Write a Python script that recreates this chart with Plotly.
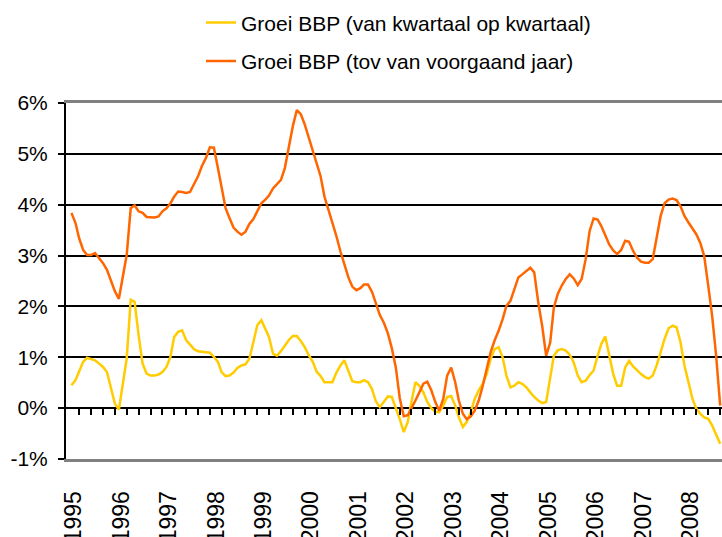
import pandas as pd
import plotly.graph_objects as go

# Monthly series, Jan 1995 - Sep 2008 (values in %)
series_names = ["Groei BBP (van kwartaal op kwartaal)", "Groei BBP (tov van voorgaand jaar)"]

qoq = [0.45, 0.55, 0.72, 0.91, 0.99, 0.97, 0.94, 0.88, 0.81, 0.71, 0.38, 0.09,
       -0.03, 0.45, 0.97, 2.13, 2.09, 1.43, 0.88, 0.68, 0.64, 0.64, 0.66, 0.71,
       0.81, 1.01, 1.40, 1.50, 1.53, 1.34, 1.24, 1.16, 1.12, 1.11, 1.09, 1.09,
       1.01, 0.91, 0.71, 0.63, 0.64, 0.70, 0.79, 0.84, 0.86, 0.97, 1.30, 1.63,
       1.73, 1.57, 1.40, 1.07, 1.03, 1.12, 1.24, 1.34, 1.42, 1.42, 1.32, 1.20,
       1.04, 0.91, 0.72, 0.63, 0.51, 0.51, 0.51, 0.70, 0.84, 0.94, 0.74, 0.53,
       0.51, 0.51, 0.55, 0.51, 0.38, 0.13, 0.02, 0.12, 0.23, 0.22, 0.02, -0.21,
       -0.47, -0.27, 0.12, 0.51, 0.44, 0.31, 0.12, 0.00, -0.07, -0.08, 0.05, 0.22,
       0.24, 0.05, -0.18, -0.37, -0.27, -0.08, 0.18, 0.35, 0.48, 0.67, 0.97, 1.16,
       1.20, 1.00, 0.64, 0.41, 0.44, 0.51, 0.48, 0.41, 0.31, 0.22, 0.15, 0.10,
       0.12, 0.58, 1.03, 1.14, 1.16, 1.13, 1.05, 0.90, 0.64, 0.51, 0.54, 0.65,
       0.74, 1.03, 1.26, 1.41, 1.07, 0.67, 0.44, 0.44, 0.80, 0.93, 0.82, 0.74,
       0.67, 0.61, 0.58, 0.64, 0.84, 1.10, 1.36, 1.57, 1.62, 1.59, 1.29, 0.84,
       0.51, 0.18, -0.01, -0.11, -0.18, -0.21, -0.34, -0.52, -0.70]

yoy = [3.84, 3.64, 3.34, 3.11, 3.01, 3.01, 3.05, 2.96, 2.85, 2.72, 2.52, 2.30,
       2.15, 2.62, 3.01, 3.93, 3.99, 3.87, 3.84, 3.76, 3.75, 3.75, 3.77, 3.87,
       3.93, 4.03, 4.16, 4.26, 4.25, 4.23, 4.25, 4.41, 4.56, 4.76, 4.92, 5.13,
       5.12, 4.72, 4.36, 3.93, 3.74, 3.55, 3.47, 3.41, 3.47, 3.62, 3.72, 3.87,
       4.03, 4.10, 4.18, 4.32, 4.41, 4.49, 4.72, 5.12, 5.55, 5.86, 5.78, 5.58,
       5.32, 5.02, 4.82, 4.56, 4.16, 3.90, 3.68, 3.38, 3.08, 2.82, 2.57, 2.39,
       2.32, 2.36, 2.43, 2.43, 2.29, 2.06, 1.83, 1.68, 1.47, 1.18, 0.80, 0.20,
       -0.16, -0.14, -0.01, 0.15, 0.31, 0.48, 0.52, 0.35, 0.12, -0.05, 0.18, 0.64,
       0.80, 0.51, 0.15, -0.11, -0.22, -0.16, -0.05, 0.15, 0.44, 0.77, 1.10, 1.33,
       1.52, 1.75, 2.01, 2.11, 2.34, 2.57, 2.63, 2.70, 2.76, 2.67, 2.08, 1.62,
       1.03, 1.29, 1.98, 2.25, 2.41, 2.54, 2.63, 2.55, 2.42, 2.54, 2.93, 3.48,
       3.73, 3.71, 3.58, 3.40, 3.22, 3.10, 3.03, 3.11, 3.29, 3.27, 3.09, 2.96,
       2.88, 2.86, 2.86, 2.93, 3.35, 3.78, 4.03, 4.10, 4.12, 4.09, 3.97, 3.78,
       3.65, 3.52, 3.42, 3.25, 2.99, 2.41, 1.82, 1.03, 0.05]

year_labels = [str(y) for y in range(1995, 2009)]
y_tick_values = [-1, 0, 1, 2, 3, 4, 5, 6]
y_tick_labels = ["-1%", "0%", "1%", "2%", "3%", "4%", "5%", "6%"]

dates = pd.date_range("1995-01-01", periods=len(yoy), freq="MS")
quarter_ticks = pd.date_range("1995-03-01", "2008-09-01", freq="3MS")
year_tick_pos = [f"{y}-01-18" for y in year_labels]

FONT = "Liberation Sans, Arial, sans-serif"

fig = go.Figure()
fig.add_trace(go.Scatter(x=dates, y=qoq, mode="lines", name=series_names[0],
                         line=dict(color="#FFCC00", width=2.5), legend="legend"))
fig.add_trace(go.Scatter(x=dates, y=yoy, mode="lines", name=series_names[1],
                         line=dict(color="#FF6600", width=2.5), legend="legend2"))
# helper (invisible) trace so the zero-line tick axis is drawn
fig.add_trace(go.Scatter(x=dates[:1], y=[0], mode="markers", xaxis="x2",
                         marker=dict(opacity=0), showlegend=False, hoverinfo="skip"))

x_range = ["1994-11-20", "2008-09-15"]

fig.update_layout(
    width=722, height=537,
    margin=dict(l=66, r=0, t=103, b=78, autoexpand=False),
    paper_bgcolor="white", plot_bgcolor="white",
    font=dict(family=FONT, color="black", size=21),
    xaxis=dict(type="date", range=x_range, tickmode="array", automargin=False,
               tickvals=year_tick_pos, ticktext=year_labels, tickangle=-90,
               ticks="", showgrid=False, zeroline=False,
               showline=True, linecolor="#808080", linewidth=3, mirror=True,
               tickfont=dict(size=23, family=FONT, color="black"),
               ticklabelstandoff=20),
    xaxis2=dict(type="date", range=x_range, overlaying="x", matches="x",
                anchor="free", position=1/7, side="bottom", automargin=False,
                tickmode="array", tickvals=list(quarter_ticks),
                ticks="outside", ticklen=6, tickwidth=2, tickcolor="black",
                showticklabels=False, showgrid=False, showline=False, zeroline=False),
    yaxis=dict(range=[-1, 6], tickmode="array", tickvals=y_tick_values, ticktext=y_tick_labels,
               automargin=False,
               showgrid=True, gridcolor="black", gridwidth=2,
               zeroline=True, zerolinecolor="black", zerolinewidth=2,
               showline=True, linecolor="black", linewidth=2,
               ticks="outside", ticklen=6, tickwidth=2, tickcolor="black",
               ticklabelstandoff=6, tickfont=dict(size=21, family=FONT, color="black")),
    legend=dict(x=0.2058, y=1.225, xanchor="left", yanchor="middle",
                bgcolor="rgba(0,0,0,0)", font=dict(size=21, family=FONT, color="black")),
    legend2=dict(x=0.2058, y=1.117, xanchor="left", yanchor="middle",
                 bgcolor="rgba(0,0,0,0)", font=dict(size=21, family=FONT, color="black")),
    showlegend=True,
)

fig.write_html("out.html", config={"displayModeBar": False},
               post_script="document.body.style.margin='0';")
